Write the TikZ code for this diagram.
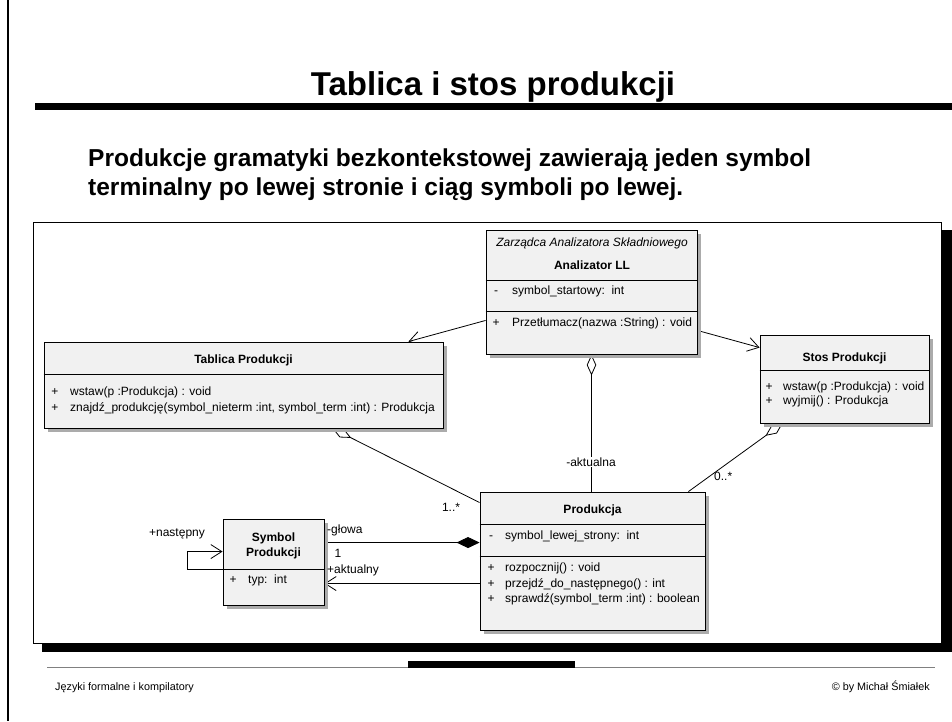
\documentclass[tikz,border=0pt]{standalone}
\usepackage{fontspec}
\setmainfont{Liberation Sans}
\usetikzlibrary{arrows.meta,calc,shadows}
\pgfdeclarelayer{back}
\pgfdeclarelayer{conns}
\pgfsetlayers{back,conns,main}
\definecolor{boxfill}{HTML}{F1F1F1}
\definecolor{shadowc}{HTML}{ABABAB}
\tikzset{
  cls/.style={draw=black, line width=0.9pt, fill=boxfill, rectangle, inner sep=0pt,
    drop shadow={shadow xshift=4pt, shadow yshift=-4pt, fill=shadowc, opacity=1}},
  txt/.style={font=\fontsize{12}{14}\selectfont, inner sep=0pt, text height=9pt, text depth=2.5pt},
  bold/.style={txt, font=\bfseries\fontsize{12}{14}\selectfont},
  lbl/.style={font=\fontsize{12}{14}\selectfont, inner sep=1pt},
  conn/.style={line width=0.8pt},
  barb/.style={-{Straight Barb[length=11pt,width=14pt,line width=0.8pt]}},
  odiam/.style={{Diamond[fill=white,length=21pt,width=9.5pt,line width=0.8pt]}-},
  fdiam/.style={{Diamond[length=23pt,width=11pt]}-},
  sep/.style={line width=0.8pt},
  subt/.style={font=\bfseries\fontsize{24.5}{29}\selectfont, anchor=base west, inner sep=0pt},
  foot/.style={font=\fontsize{10.8}{13}\selectfont, inner sep=0pt}
}
\begin{document}
\begin{tikzpicture}[x=1pt,y=-1pt]
\useasboundingbox (0,0) rectangle (952,721);
\begin{pgfonlayer}{back}
\fill[white] (0,0) rectangle (952,721);
\draw[line width=2.5pt] (8,0) -- (8,721);
\fill (35,103) rectangle (952,110);
\fill (42,230) rectangle (952,652);
\draw[fill=white, line width=1pt] (33,222) rectangle (941,643);
\draw[gray, line width=1pt] (47,667) -- (935,667);
\fill (408,661) rectangle (575,668);
\end{pgfonlayer}

\node[font=\bfseries\fontsize{33}{38}\selectfont, anchor=base, inner sep=0pt] (title) at (493,95) {Tablica i stos produkcji};
\node[subt] (sub1) at (88,166) {Produkcje gramatyki bezkontekstowej zawierają jeden symbol};
\node[subt] (sub2) at (88,195) {terminalny po lewej stronie i ciąg symboli po lewej.};
\node[foot, anchor=base west] (foot1) at (55,690) {Języki formalne i kompilatory};
\node[foot, anchor=base east] (foot2) at (930,690) {© by Michał Śmiałek};

% Analizator LL
\node[cls, minimum width=211pt, minimum height=124pt] (an) at (591.5,292) {};
\draw[sep] (an.west |- 0,280) -- (an.east |- 0,280);
\draw[sep] (an.west |- 0,311) -- (an.east |- 0,311);
\node[txt, font=\itshape\fontsize{12}{14}\selectfont] (anst) at (592,243) {Zarządca Analizatora Składniowego};
\node[bold] (annm) at (592,266) {Analizator LL};
\node[txt] (ana1) at (496,291) {-};
\node[txt, anchor=west] (ana2) at (512,291) {symbol\_startowy:\ \ int};
\node[txt] (ano1) at (496,323) {+};
\node[txt, anchor=west] (ano2) at (512,323) {Przetłumacz(nazwa :String) : void};

% Tablica Produkcji
\node[cls, minimum width=399pt, minimum height=86pt] (tp) at (243.5,385) {};
\draw[sep] (tp.west |- 0,374) -- (tp.east |- 0,374);
\node[bold] (tpnm) at (243.5,360) {Tablica Produkcji};
\node[txt] (tpo1) at (55,392) {+};
\node[txt, anchor=west] (tpo2) at (70,392) {wstaw(p :Produkcja) : void};
\node[txt] (tpo3) at (55,408) {+};
\node[txt, anchor=west] (tpo4) at (70,408) {znajdź\_produkcję(symbol\_nieterm :int, symbol\_term :int) : Produkcja};

% Stos Produkcji
\node[cls, minimum width=169pt, minimum height=88pt] (sp) at (844.5,379) {};
\draw[sep] (sp.west |- 0,370) -- (sp.east |- 0,370);
\node[bold] (spnm) at (844.5,358) {Stos Produkcji};
\node[txt] (spo1) at (769,387) {+};
\node[txt, anchor=west] (spo2) at (783,387) {wstaw(p :Produkcja) : void};
\node[txt] (spo3) at (769,401) {+};
\node[txt, anchor=west] (spo4) at (783,401) {wyjmij() : Produkcja};

% Symbol Produkcji
\node[cls, minimum width=101pt, minimum height=86pt] (sy) at (273.5,562) {};
\draw[sep] (sy.west |- 0,569) -- (sy.east |- 0,569);
\node[bold] (synm1) at (273.5,538) {Symbol};
\node[bold] (synm2) at (273.5,553) {Produkcji};
\node[txt] (sya1) at (233,580) {+};
\node[txt, anchor=west] (sya2) at (248,580) {typ:\ \ int};

% Produkcja
\node[cls, minimum width=225pt, minimum height=138pt] (pr) at (592.5,561) {};
\draw[sep] (pr.west |- 0,524) -- (pr.east |- 0,524);
\draw[sep] (pr.west |- 0,556) -- (pr.east |- 0,556);
\node[bold] (prnm) at (592.5,510) {Produkcja};
\node[txt] (pra1) at (491,536) {-};
\node[txt, anchor=west] (pra2) at (505,536) {symbol\_lewej\_strony:\ \ int};
\node[txt] (pro1) at (491,568) {+};
\node[txt, anchor=west] (pro2) at (505,568) {rozpocznij() : void};
\node[txt] (pro3) at (491,584) {+};
\node[txt, anchor=west] (pro4) at (505,584) {przejdź\_do\_następnego() : int};
\node[txt] (pro5) at (491,599) {+};
\node[txt, anchor=west] (pro6) at (505,599) {sprawdź(symbol\_term :int) : boolean};

\coordinate (c1) at ([yshift=-51pt]pr.north west);
\coordinate (c2) at ([yshift=-92pt]pr.north west);

\begin{pgfonlayer}{conns}
\draw[conn, barb] ([yshift=34pt]an.south west) -- ([xshift=-35pt]tp.north east);
\draw[conn, barb] ([yshift=24pt]an.south east) -- ([yshift=-13pt]sp.north west);
\draw[conn, odiam] (an.south) -- (an.south |- pr.north);
\draw[conn, odiam] ([xshift=23pt]sp.south west) -- ([xshift=-17pt]pr.north east);
\draw[conn, odiam] ([xshift=-111pt]tp.south east) -- ([yshift=-11pt]pr.north west);
\draw[conn, fdiam] (c1) -- (c1 -| sy.east);
\draw[conn, barb] (c2) -- (c2 -| sy.east);
\draw[conn, barb] ([yshift=-51pt]sy.north west) -- ++(-35,0) |- ([yshift=-33pt]sy.north west);
\end{pgfonlayer}

\node[lbl, fill=white] (l1) at (591,462) {-aktualna};
\node[lbl, anchor=west] (l2) at (713,476) {0..*};
\node[lbl] (l3) at (451,507) {1..*};
\node[lbl, anchor=west] (l4) at (326,530) {-głowa};
\node[lbl] (l5) at (338,553) {1};
\node[lbl, anchor=west] (l6) at (326,570) {+aktualny};
\node[lbl] (l7) at (177,534) {+następny};
\end{tikzpicture}
\end{document}
